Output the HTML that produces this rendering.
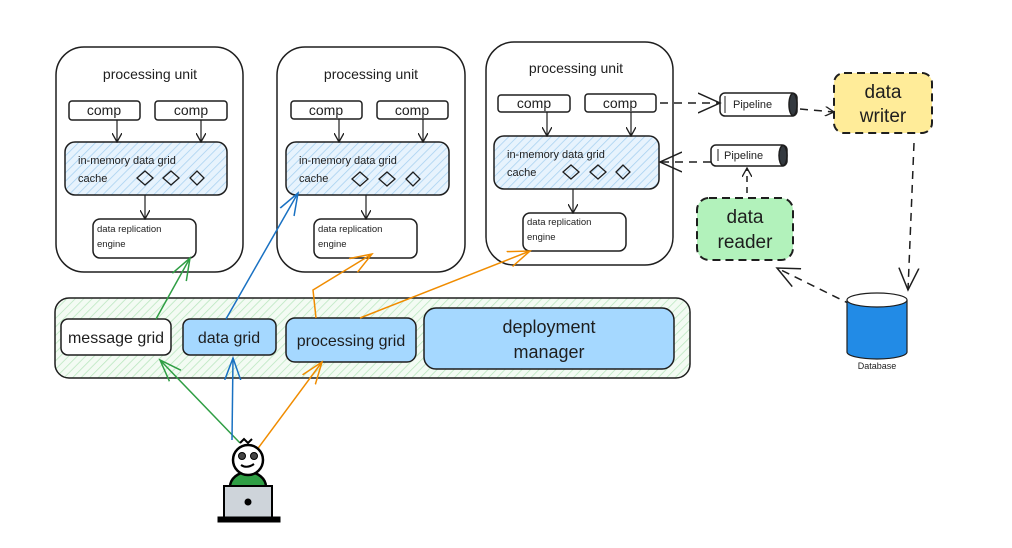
<!DOCTYPE html>
<html><head><meta charset="utf-8"><style>
html,body{margin:0;padding:0;background:#fff;}
svg{display:block;}
text{font-family:"Liberation Sans",sans-serif;fill:#1e1e1e;}
</style></head><body>
<svg width="1012" height="548" viewBox="0 0 1012 548" xmlns="http://www.w3.org/2000/svg">
<defs>
<pattern id="hb" width="6" height="6" patternUnits="userSpaceOnUse" patternTransform="rotate(45)">
<rect width="6" height="6" fill="#e7f3fd"/><line x1="0" y1="0" x2="0" y2="6" stroke="#a5d0f0" stroke-width="1.5"/></pattern>
<pattern id="hg" width="6" height="6" patternUnits="userSpaceOnUse" patternTransform="rotate(45)">
<rect width="6" height="6" fill="#f3fbf3"/><line x1="0" y1="0" x2="0" y2="6" stroke="#b8e6bd" stroke-width="1.5"/></pattern>
<marker id="ak" markerWidth="10" markerHeight="10" refX="9" refY="5" orient="auto" markerUnits="userSpaceOnUse"><path d="M0,0 L9,5 L0,10" fill="none" stroke="#1e1e1e" stroke-width="1.3"/></marker>
<marker id="akb" markerWidth="24" markerHeight="24" refX="22" refY="12" orient="auto" markerUnits="userSpaceOnUse"><path d="M0,2 L22,12 L0,22" fill="none" stroke="#1e1e1e" stroke-width="1.5"/></marker>
<marker id="ag" markerWidth="24" markerHeight="24" refX="22" refY="12" orient="auto" markerUnits="userSpaceOnUse"><path d="M0,4 L22,12 L0,20" fill="none" stroke="#2f9e44" stroke-width="1.5"/></marker>
<marker id="ab" markerWidth="24" markerHeight="24" refX="22" refY="12" orient="auto" markerUnits="userSpaceOnUse"><path d="M0,4 L22,12 L0,20" fill="none" stroke="#1971c2" stroke-width="1.5"/></marker>
<marker id="ao" markerWidth="24" markerHeight="24" refX="22" refY="12" orient="auto" markerUnits="userSpaceOnUse"><path d="M0,4 L22,12 L0,20" fill="none" stroke="#f08c00" stroke-width="1.5"/></marker>
</defs>
<g stroke="#1e1e1e" stroke-width="1.5" fill="none">
<rect x="56" y="47" width="187" height="225" rx="28" fill="#fff"/>
<rect x="69" y="101" width="71" height="19" rx="3" fill="#fff"/>
<rect x="155" y="101" width="72" height="19" rx="3" fill="#fff"/>
<rect x="65" y="142" width="162" height="53" rx="10" fill="url(#hb)"/>
<rect x="93" y="219" width="103" height="39" rx="7" fill="#fff"/>
<line x1="117" y1="120" x2="117" y2="142" marker-end="url(#ak)" stroke-width="1.2"/>
<line x1="201" y1="120" x2="201" y2="142" marker-end="url(#ak)" stroke-width="1.2"/>
<line x1="145" y1="195" x2="145" y2="219" marker-end="url(#ak)" stroke-width="1.2"/>
<rect x="277" y="47" width="188" height="225" rx="28" fill="#fff"/>
<rect x="291" y="101" width="71" height="18" rx="3" fill="#fff"/>
<rect x="377" y="101" width="71" height="18" rx="3" fill="#fff"/>
<rect x="286" y="142" width="163" height="53" rx="10" fill="url(#hb)"/>
<rect x="314" y="219" width="103" height="39" rx="7" fill="#fff"/>
<line x1="339" y1="119" x2="339" y2="142" marker-end="url(#ak)" stroke-width="1.2"/>
<line x1="423" y1="119" x2="423" y2="142" marker-end="url(#ak)" stroke-width="1.2"/>
<line x1="366" y1="195" x2="366" y2="219" marker-end="url(#ak)" stroke-width="1.2"/>
<rect x="486" y="42" width="187" height="223" rx="28" fill="#fff"/>
<rect x="498" y="95" width="72" height="17" rx="3" fill="#fff"/>
<rect x="585" y="94" width="71" height="18" rx="3" fill="#fff"/>
<rect x="494" y="136" width="165" height="53" rx="10" fill="url(#hb)"/>
<rect x="523" y="213" width="103" height="38" rx="7" fill="#fff"/>
<line x1="547" y1="112" x2="547" y2="136" marker-end="url(#ak)" stroke-width="1.2"/>
<line x1="631" y1="112" x2="631" y2="136" marker-end="url(#ak)" stroke-width="1.2"/>
<line x1="573" y1="189" x2="573" y2="213" marker-end="url(#ak)" stroke-width="1.2"/>
<g stroke-width="1.3">
<path d="M137,178 l8,-7 l8,7 l-8,7z"/><path d="M163,178 l8,-7 l8,7 l-8,7z"/><path d="M190,178 l7,-7 l7,7 l-7,7z"/>
<path d="M352,179 l8,-7 l8,7 l-8,7z"/><path d="M379,179 l8,-7 l8,7 l-8,7z"/><path d="M406,179 l7,-7 l7,7 l-7,7z"/>
<path d="M563,172 l8,-7 l8,7 l-8,7z"/><path d="M590,172 l8,-7 l8,7 l-8,7z"/><path d="M616,172 l7,-7 l7,7 l-7,7z"/>
</g>
<rect x="55" y="298" width="635" height="80" rx="14" fill="url(#hg)"/>
<rect x="61" y="319" width="110" height="36" rx="7" fill="#fff"/>
<rect x="183" y="319" width="93" height="36" rx="7" fill="#a5d8ff"/>
<rect x="286" y="318" width="130" height="44" rx="9" fill="#a5d8ff"/>
<rect x="424" y="308" width="250" height="61" rx="12" fill="#a5d8ff"/>
<rect x="720" y="93" width="77" height="23" rx="5" fill="#fff"/>
<ellipse cx="793" cy="104.5" rx="4" ry="11" fill="#343a40"/>
<line x1="725" y1="96" x2="725" y2="113" stroke-width="1"/>
<rect x="711" y="145" width="76" height="21" rx="5" fill="#fff"/>
<ellipse cx="783" cy="155.5" rx="4" ry="10" fill="#343a40"/>
<line x1="718" y1="149" x2="718" y2="161" stroke-width="1"/>
<rect x="834" y="73" width="98" height="60" rx="10" fill="#ffec99" stroke-dasharray="8 5" stroke-width="2"/>
<rect x="697" y="198" width="96" height="62" rx="12" fill="#b2f2bb" stroke-dasharray="8 5" stroke-width="2"/>
<line x1="660" y1="103" x2="720" y2="103" stroke-dasharray="8 6" marker-end="url(#akb)"/>
<line x1="800" y1="109" x2="834" y2="112" stroke-dasharray="8 6" marker-end="url(#ak)"/>
<line x1="711" y1="162" x2="660" y2="162" stroke-dasharray="8 6" marker-end="url(#akb)"/>
<line x1="747" y1="193" x2="747" y2="168" stroke-dasharray="6 5" marker-end="url(#ak)"/>
<line x1="914" y1="143" x2="908" y2="290" stroke-dasharray="8 6" marker-end="url(#akb)"/>
<line x1="852" y1="305" x2="777" y2="268" stroke-dasharray="8 6" marker-end="url(#akb)"/>
</g>
<g stroke="#1e1e1e" stroke-width="1.2">
<path d="M847,300 L847,352 A30,7 0 0 0 907,352 L907,300" fill="#228be6"/>
<ellipse cx="877" cy="300" rx="30" ry="7" fill="#fff"/>
</g>
<g fill="none" stroke-width="1.5">
<line x1="156" y1="319" x2="190" y2="258" stroke="#2f9e44" marker-end="url(#ag)"/>
<line x1="240" y1="443" x2="160" y2="360" stroke="#2f9e44" marker-end="url(#ag)"/>
<line x1="226" y1="319" x2="298" y2="193" stroke="#1971c2" marker-end="url(#ab)"/>
<line x1="232" y1="440" x2="233" y2="358" stroke="#1971c2" marker-end="url(#ab)"/>
<path d="M316,318 L313,290 L372,254" stroke="#f08c00" marker-end="url(#ao)"/>
<line x1="360" y1="318" x2="530" y2="251" stroke="#f08c00" marker-end="url(#ao)"/>
<line x1="236" y1="478" x2="322" y2="362" stroke="#f08c00" marker-end="url(#ao)"/>
</g>
<g stroke="#000" stroke-width="2.5">
<path d="M230,487 A18,15 0 0 1 266,487 Z" fill="#2f9e44"/>
<circle cx="248" cy="460" r="15" fill="#fff"/>
<path d="M240,443 l4,-4 l4,4 l4,-4" fill="none" stroke-width="2"/>
<circle cx="242" cy="456" r="3.5" fill="#444" stroke-width="1"/><circle cx="254" cy="456" r="3.5" fill="#444" stroke-width="1"/>
<path d="M241,465 q6,4 13,-1" fill="none" stroke-width="2"/>
<rect x="224" y="486" width="48" height="32" fill="#ced4da" stroke-width="2"/>
<rect x="218" y="517" width="62" height="5" fill="#000" stroke-width="1"/>
<circle cx="248" cy="502" r="3" fill="#000" stroke-width="1"/>
</g>
<g font-size="14" text-anchor="middle">
<text x="150" y="79">processing unit</text>
<text x="371" y="79">processing unit</text>
<text x="576" y="73">processing unit</text>
<text x="104" y="115">comp</text><text x="191" y="115">comp</text>
<text x="326" y="115">comp</text><text x="412" y="115">comp</text>
<text x="534" y="108">comp</text><text x="620" y="108">comp</text>
</g>
<g font-size="11">
<text x="78" y="164">in-memory data grid</text><text x="78" y="182">cache</text>
<text x="299" y="164">in-memory data grid</text><text x="299" y="182">cache</text>
<text x="507" y="158">in-memory data grid</text><text x="507" y="176">cache</text>
</g>
<g font-size="9.5">
<text x="97" y="232">data replication</text><text x="97" y="247">engine</text>
<text x="318" y="232">data replication</text><text x="318" y="247">engine</text>
<text x="527" y="225">data replication</text><text x="527" y="240">engine</text>
<text x="733" y="108" font-size="11">Pipeline</text>
<text x="724" y="159" font-size="11">Pipeline</text>
<text x="877" y="369" text-anchor="middle" font-size="9">Database</text>
</g>
<g font-size="16" text-anchor="middle">
<text x="116" y="343">message grid</text>
<text x="229" y="343">data grid</text>
<text x="351" y="346">processing grid</text>
<text x="549" y="333" font-size="18">deployment</text>
<text x="549" y="358" font-size="18">manager</text>
<text x="883" y="98" font-size="19">data</text>
<text x="883" y="122" font-size="19">writer</text>
<text x="745" y="223" font-size="19">data</text>
<text x="745" y="248" font-size="19">reader</text>
</g>
</svg>
</body></html>
